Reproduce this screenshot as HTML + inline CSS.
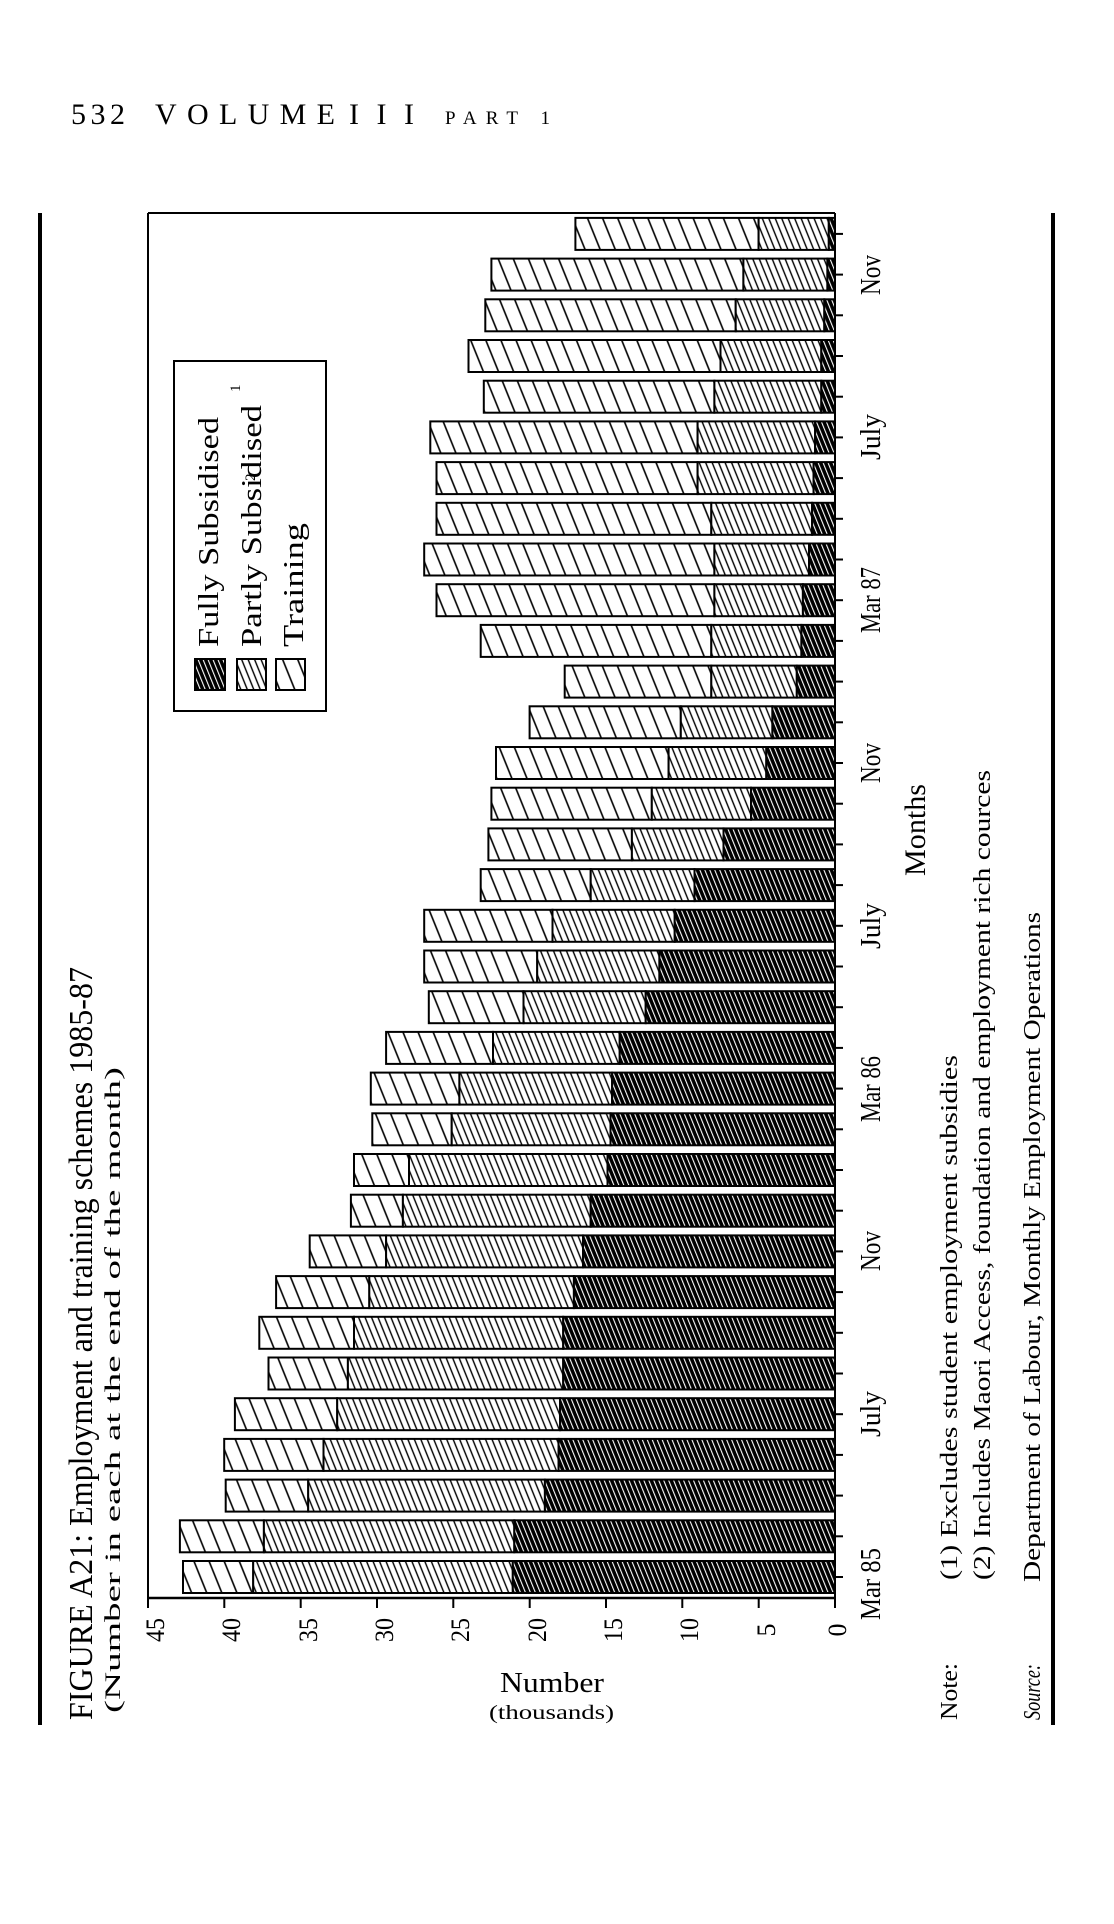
<!DOCTYPE html>
<html><head><meta charset="utf-8"><style>html,body{margin:0;padding:0;background:#fff}svg{display:block}text{font-family:"Liberation Serif",serif;fill:#000}</style></head>
<body>
<svg width="1114" height="1924" viewBox="0 0 1114 1924" xmlns="http://www.w3.org/2000/svg">
<defs>
<pattern id="pt" patternUnits="userSpaceOnUse" width="14" height="14" patternTransform="rotate(-22)"><rect width="14" height="14" fill="#fff"/><line x1="1" y1="-1" x2="1" y2="15" stroke="#000" stroke-width="1.6"/></pattern>
<pattern id="pp" patternUnits="userSpaceOnUse" width="6" height="6" patternTransform="rotate(-22)"><rect width="6" height="6" fill="#fff"/><line x1="1" y1="-1" x2="1" y2="7" stroke="#000" stroke-width="1.4"/></pattern>
<pattern id="pf" patternUnits="userSpaceOnUse" width="4.6" height="4.6" patternTransform="rotate(-22)"><rect width="4.6" height="4.6" fill="#000"/><line x1="1" y1="-1" x2="1" y2="6" stroke="#fff" stroke-width="1.1"/></pattern>
</defs>
<style>.t{fill:url(#pt);stroke:#000;stroke-width:2}.p{fill:url(#pp);stroke:#000;stroke-width:2}.f{fill:url(#pf);stroke:#000;stroke-width:2}</style>

<!-- header -->
<text x="71" y="124" font-size="30" textLength="54" lengthAdjust="spacing">532</text>
<text x="155" y="124" font-size="30" textLength="180" lengthAdjust="spacing">VOLUME</text>
<text x="349" y="124" font-size="30" textLength="65" lengthAdjust="spacing">III</text>
<text x="445" y="124" font-size="19" textLength="105" lengthAdjust="spacing">PART 1</text>

<!-- page rules -->
<rect x="38" y="213" width="4" height="1512" fill="#000"/>
<rect x="1051" y="213" width="4" height="1512" fill="#000"/>

<!-- frame -->
<line x1="148" y1="213" x2="835" y2="213" stroke="#000" stroke-width="2"/>
<line x1="148" y1="213" x2="148" y2="1598" stroke="#000" stroke-width="2"/>
<line x1="835" y1="213" x2="835" y2="1598" stroke="#000" stroke-width="2"/>
<line x1="147" y1="1598" x2="836" y2="1598" stroke="#000" stroke-width="2.5"/>

<!-- bottom ticks -->
<g stroke="#000" stroke-width="2">
<line x1="148" y1="1598" x2="148" y2="1608"/><line x1="224.3" y1="1598" x2="224.3" y2="1608"/><line x1="300.7" y1="1598" x2="300.7" y2="1608"/><line x1="377" y1="1598" x2="377" y2="1608"/><line x1="453.3" y1="1598" x2="453.3" y2="1608"/><line x1="529.7" y1="1598" x2="529.7" y2="1608"/><line x1="606" y1="1598" x2="606" y2="1608"/><line x1="682.3" y1="1598" x2="682.3" y2="1608"/><line x1="758.7" y1="1598" x2="758.7" y2="1608"/><line x1="835" y1="1598" x2="835" y2="1608"/>
</g>
<g font-size="26" text-anchor="middle">
<text transform="translate(164,1630) rotate(-90)" textLength="24" lengthAdjust="spacingAndGlyphs">45</text>
<text transform="translate(240,1630) rotate(-90)" textLength="24" lengthAdjust="spacingAndGlyphs">40</text>
<text transform="translate(317,1630) rotate(-90)" textLength="24" lengthAdjust="spacingAndGlyphs">35</text>
<text transform="translate(393,1630) rotate(-90)" textLength="24" lengthAdjust="spacingAndGlyphs">30</text>
<text transform="translate(469,1630) rotate(-90)" textLength="24" lengthAdjust="spacingAndGlyphs">25</text>
<text transform="translate(546,1630) rotate(-90)" textLength="24" lengthAdjust="spacingAndGlyphs">20</text>
<text transform="translate(622,1630) rotate(-90)" textLength="24" lengthAdjust="spacingAndGlyphs">15</text>
<text transform="translate(698,1630) rotate(-90)" textLength="24" lengthAdjust="spacingAndGlyphs">10</text>
<text transform="translate(775,1630) rotate(-90)">5</text>
<text transform="translate(846,1630) rotate(-90)">0</text>
</g>

<!-- right ticks -->
<g stroke="#000" stroke-width="2">
<line x1="835" y1="1577" x2="843" y2="1577"/><line x1="835" y1="1536.3" x2="843" y2="1536.3"/><line x1="835" y1="1495.6" x2="843" y2="1495.6"/><line x1="835" y1="1454.9" x2="843" y2="1454.9"/><line x1="835" y1="1414.2" x2="843" y2="1414.2"/><line x1="835" y1="1373.5" x2="843" y2="1373.5"/><line x1="835" y1="1332.8" x2="843" y2="1332.8"/><line x1="835" y1="1292.1" x2="843" y2="1292.1"/><line x1="835" y1="1251.4" x2="843" y2="1251.4"/><line x1="835" y1="1210.7" x2="843" y2="1210.7"/><line x1="835" y1="1170" x2="843" y2="1170"/><line x1="835" y1="1129.3" x2="843" y2="1129.3"/><line x1="835" y1="1088.6" x2="843" y2="1088.6"/><line x1="835" y1="1047.9" x2="843" y2="1047.9"/><line x1="835" y1="1007.2" x2="843" y2="1007.2"/><line x1="835" y1="966.5" x2="843" y2="966.5"/><line x1="835" y1="925.8" x2="843" y2="925.8"/><line x1="835" y1="885.1" x2="843" y2="885.1"/><line x1="835" y1="844.4" x2="843" y2="844.4"/><line x1="835" y1="803.7" x2="843" y2="803.7"/><line x1="835" y1="763" x2="843" y2="763"/><line x1="835" y1="722.3" x2="843" y2="722.3"/><line x1="835" y1="681.6" x2="843" y2="681.6"/><line x1="835" y1="640.9" x2="843" y2="640.9"/><line x1="835" y1="600.2" x2="843" y2="600.2"/><line x1="835" y1="559.5" x2="843" y2="559.5"/><line x1="835" y1="518.8" x2="843" y2="518.8"/><line x1="835" y1="478.1" x2="843" y2="478.1"/><line x1="835" y1="437.4" x2="843" y2="437.4"/><line x1="835" y1="396.7" x2="843" y2="396.7"/><line x1="835" y1="356" x2="843" y2="356"/><line x1="835" y1="315.3" x2="843" y2="315.3"/><line x1="835" y1="274.6" x2="843" y2="274.6"/><line x1="835" y1="233.9" x2="843" y2="233.9"/>
</g>

<!-- bars -->
<g>
<rect class="t" x="183.0" y="1561" width="70.2" height="32"/><rect class="p" x="253.2" y="1561" width="259.6" height="32"/><rect class="f" x="512.8" y="1561" width="322.2" height="32"/>
<rect class="t" x="179.9" y="1520.3" width="84.0" height="32"/><rect class="p" x="263.9" y="1520.3" width="250.4" height="32"/><rect class="f" x="514.3" y="1520.3" width="320.7" height="32"/>
<rect class="t" x="225.7" y="1479.6" width="82.5" height="32"/><rect class="p" x="308.2" y="1479.6" width="236.7" height="32"/><rect class="f" x="544.9" y="1479.6" width="290.1" height="32"/>
<rect class="t" x="224.2" y="1438.9" width="99.3" height="32"/><rect class="p" x="323.5" y="1438.9" width="235.1" height="32"/><rect class="f" x="558.6" y="1438.9" width="276.4" height="32"/>
<rect class="t" x="234.9" y="1398.2" width="102.3" height="32"/><rect class="p" x="337.2" y="1398.2" width="222.9" height="32"/><rect class="f" x="560.1" y="1398.2" width="274.9" height="32"/>
<rect class="t" x="268.5" y="1357.5" width="79.4" height="32"/><rect class="p" x="347.9" y="1357.5" width="215.3" height="32"/><rect class="f" x="563.2" y="1357.5" width="271.8" height="32"/>
<rect class="t" x="259.3" y="1316.8" width="94.7" height="32"/><rect class="p" x="354.0" y="1316.8" width="209.2" height="32"/><rect class="f" x="563.2" y="1316.8" width="271.8" height="32"/>
<rect class="t" x="276.1" y="1276.1" width="93.2" height="32"/><rect class="p" x="369.3" y="1276.1" width="204.6" height="32"/><rect class="f" x="573.9" y="1276.1" width="261.1" height="32"/>
<rect class="t" x="309.7" y="1235.4" width="76.4" height="32"/><rect class="p" x="386.1" y="1235.4" width="196.9" height="32"/><rect class="f" x="583.0" y="1235.4" width="252.0" height="32"/>
<rect class="t" x="350.9" y="1194.7" width="52.0" height="32"/><rect class="p" x="402.9" y="1194.7" width="187.8" height="32"/><rect class="f" x="590.7" y="1194.7" width="244.3" height="32"/>
<rect class="t" x="354.0" y="1154" width="55.0" height="32"/><rect class="p" x="409.0" y="1154" width="198.5" height="32"/><rect class="f" x="607.5" y="1154" width="227.5" height="32"/>
<rect class="t" x="372.3" y="1113.3" width="79.4" height="32"/><rect class="p" x="451.7" y="1113.3" width="158.8" height="32"/><rect class="f" x="610.5" y="1113.3" width="224.5" height="32"/>
<rect class="t" x="370.8" y="1072.6" width="88.6" height="32"/><rect class="p" x="459.4" y="1072.6" width="152.7" height="32"/><rect class="f" x="612.1" y="1072.6" width="222.9" height="32"/>
<rect class="t" x="386.1" y="1031.9" width="106.9" height="32"/><rect class="p" x="493.0" y="1031.9" width="126.7" height="32"/><rect class="f" x="619.7" y="1031.9" width="215.3" height="32"/>
<rect class="t" x="428.8" y="991.2" width="94.7" height="32"/><rect class="p" x="523.5" y="991.2" width="122.2" height="32"/><rect class="f" x="645.7" y="991.2" width="189.3" height="32"/>
<rect class="t" x="424.2" y="950.5" width="113.0" height="32"/><rect class="p" x="537.2" y="950.5" width="122.2" height="32"/><rect class="f" x="659.4" y="950.5" width="175.6" height="32"/>
<rect class="t" x="424.2" y="909.8" width="128.3" height="32"/><rect class="p" x="552.5" y="909.8" width="122.2" height="32"/><rect class="f" x="674.7" y="909.8" width="160.3" height="32"/>
<rect class="t" x="480.7" y="869.1" width="110.0" height="32"/><rect class="p" x="590.7" y="869.1" width="103.8" height="32"/><rect class="f" x="694.5" y="869.1" width="140.5" height="32"/>
<rect class="t" x="488.4" y="828.4" width="143.5" height="32"/><rect class="p" x="631.9" y="828.4" width="91.6" height="32"/><rect class="f" x="723.5" y="828.4" width="111.5" height="32"/>
<rect class="t" x="491.4" y="787.7" width="160.4" height="32"/><rect class="p" x="651.8" y="787.7" width="99.2" height="32"/><rect class="f" x="751.0" y="787.7" width="84.0" height="32"/>
<rect class="t" x="496.0" y="747" width="172.6" height="32"/><rect class="p" x="668.6" y="747" width="97.7" height="32"/><rect class="f" x="766.3" y="747" width="68.7" height="32"/>
<rect class="t" x="529.6" y="706.3" width="151.2" height="32"/><rect class="p" x="680.8" y="706.3" width="91.6" height="32"/><rect class="f" x="772.4" y="706.3" width="62.6" height="32"/>
<rect class="t" x="564.7" y="665.6" width="146.6" height="32"/><rect class="p" x="711.3" y="665.6" width="85.5" height="32"/><rect class="f" x="796.8" y="665.6" width="38.2" height="32"/>
<rect class="t" x="480.7" y="624.9" width="230.6" height="32"/><rect class="p" x="711.3" y="624.9" width="90.1" height="32"/><rect class="f" x="801.4" y="624.9" width="33.6" height="32"/>
<rect class="t" x="436.5" y="584.2" width="277.9" height="32"/><rect class="p" x="714.4" y="584.2" width="88.5" height="32"/><rect class="f" x="802.9" y="584.2" width="32.1" height="32"/>
<rect class="t" x="424.2" y="543.5" width="290.2" height="32"/><rect class="p" x="714.4" y="543.5" width="94.6" height="32"/><rect class="f" x="809.0" y="543.5" width="26.0" height="32"/>
<rect class="t" x="436.5" y="502.8" width="274.8" height="32"/><rect class="p" x="711.3" y="502.8" width="100.8" height="32"/><rect class="f" x="812.1" y="502.8" width="22.9" height="32"/>
<rect class="t" x="436.5" y="462.1" width="261.1" height="32"/><rect class="p" x="697.6" y="462.1" width="116.0" height="32"/><rect class="f" x="813.6" y="462.1" width="21.4" height="32"/>
<rect class="t" x="430.3" y="421.4" width="267.3" height="32"/><rect class="p" x="697.6" y="421.4" width="117.5" height="32"/><rect class="f" x="815.1" y="421.4" width="19.9" height="32"/>
<rect class="t" x="483.8" y="380.7" width="230.6" height="32"/><rect class="p" x="714.4" y="380.7" width="106.9" height="32"/><rect class="f" x="821.3" y="380.7" width="13.7" height="32"/>
<rect class="t" x="468.5" y="340" width="252.0" height="32"/><rect class="p" x="720.5" y="340" width="100.8" height="32"/><rect class="f" x="821.3" y="340" width="13.7" height="32"/>
<rect class="t" x="485.3" y="299.3" width="250.4" height="32"/><rect class="p" x="735.7" y="299.3" width="88.6" height="32"/><rect class="f" x="824.3" y="299.3" width="10.7" height="32"/>
<rect class="t" x="491.4" y="258.6" width="252.0" height="32"/><rect class="p" x="743.4" y="258.6" width="84.0" height="32"/><rect class="f" x="827.4" y="258.6" width="7.6" height="32"/>
<rect class="t" x="575.4" y="217.9" width="183.2" height="32"/><rect class="p" x="758.6" y="217.9" width="70.2" height="32"/><rect class="f" x="828.8" y="217.9" width="6.2" height="32"/>
</g>

<!-- month labels -->
<g font-size="28" text-anchor="middle">
<text transform="translate(880,1584) rotate(-90)" textLength="72" lengthAdjust="spacingAndGlyphs">Mar 85</text>
<text transform="translate(880,1414) rotate(-90)" textLength="46" lengthAdjust="spacingAndGlyphs">July</text>
<text transform="translate(880,1251) rotate(-90)" textLength="40" lengthAdjust="spacingAndGlyphs">Nov</text>
<text transform="translate(880,1089) rotate(-90)" textLength="66" lengthAdjust="spacingAndGlyphs">Mar 86</text>
<text transform="translate(880,926) rotate(-90)" textLength="46" lengthAdjust="spacingAndGlyphs">July</text>
<text transform="translate(880,763) rotate(-90)" textLength="40" lengthAdjust="spacingAndGlyphs">Nov</text>
<text transform="translate(880,600) rotate(-90)" textLength="66" lengthAdjust="spacingAndGlyphs">Mar 87</text>
<text transform="translate(880,437) rotate(-90)" textLength="46" lengthAdjust="spacingAndGlyphs">July</text>
<text transform="translate(880,275) rotate(-90)" textLength="40" lengthAdjust="spacingAndGlyphs">Nov</text>
</g>
<text transform="translate(925,830) rotate(-90)" font-size="30" text-anchor="middle" textLength="92" lengthAdjust="spacingAndGlyphs">Months</text>

<!-- axis title -->
<text x="500" y="1692" font-size="28" textLength="104" lengthAdjust="spacingAndGlyphs">Number</text>
<text x="489" y="1719" font-size="20" textLength="125" lengthAdjust="spacingAndGlyphs">(thousands)</text>

<!-- figure title -->
<text transform="translate(92,1720) rotate(-90)" font-size="34" textLength="753" lengthAdjust="spacingAndGlyphs">FIGURE A21: Employment and training schemes 1985-87</text>
<text transform="translate(120,1713) rotate(-90)" font-size="22" textLength="646" lengthAdjust="spacingAndGlyphs">(Number in each at the end of the month)</text>

<!-- legend -->
<rect x="174" y="361" width="152" height="350" fill="#fff" stroke="#000" stroke-width="2"/>
<rect class="f" x="195" y="659" width="30" height="31"/>
<rect class="p" x="237" y="659" width="29" height="31"/>
<rect class="t" x="276" y="659" width="29" height="31"/>
<text transform="translate(218,647) rotate(-90)" font-size="29" textLength="230" lengthAdjust="spacingAndGlyphs">Fully Subsidised</text>
<text transform="translate(261,647) rotate(-90)" font-size="29" textLength="242" lengthAdjust="spacingAndGlyphs">Partly Subsidised</text>
<text transform="translate(303,647) rotate(-90)" font-size="29" textLength="124" lengthAdjust="spacingAndGlyphs">Training</text>
<text transform="translate(240,392) rotate(-90)" font-size="15">1</text>
<text transform="translate(255,481) rotate(-90)" font-size="15">2</text>

<!-- notes -->
<text transform="translate(957,1720) rotate(-90)" font-size="24" textLength="57" lengthAdjust="spacingAndGlyphs">Note:</text>
<text transform="translate(957,1580) rotate(-90)" font-size="24" textLength="525" lengthAdjust="spacingAndGlyphs">(1) Excludes student employment subsidies</text>
<text transform="translate(990,1580) rotate(-90)" font-size="24" textLength="810" lengthAdjust="spacingAndGlyphs">(2) Includes Maori Access, foundation and employment rich cources</text>
<text transform="translate(1040,1720) rotate(-90)" font-size="24" font-style="italic" textLength="56" lengthAdjust="spacingAndGlyphs">Source:</text>
<text transform="translate(1040,1582) rotate(-90)" font-size="24" textLength="670" lengthAdjust="spacingAndGlyphs">Department of Labour, Monthly Employment Operations</text>
</svg>
</body></html>
